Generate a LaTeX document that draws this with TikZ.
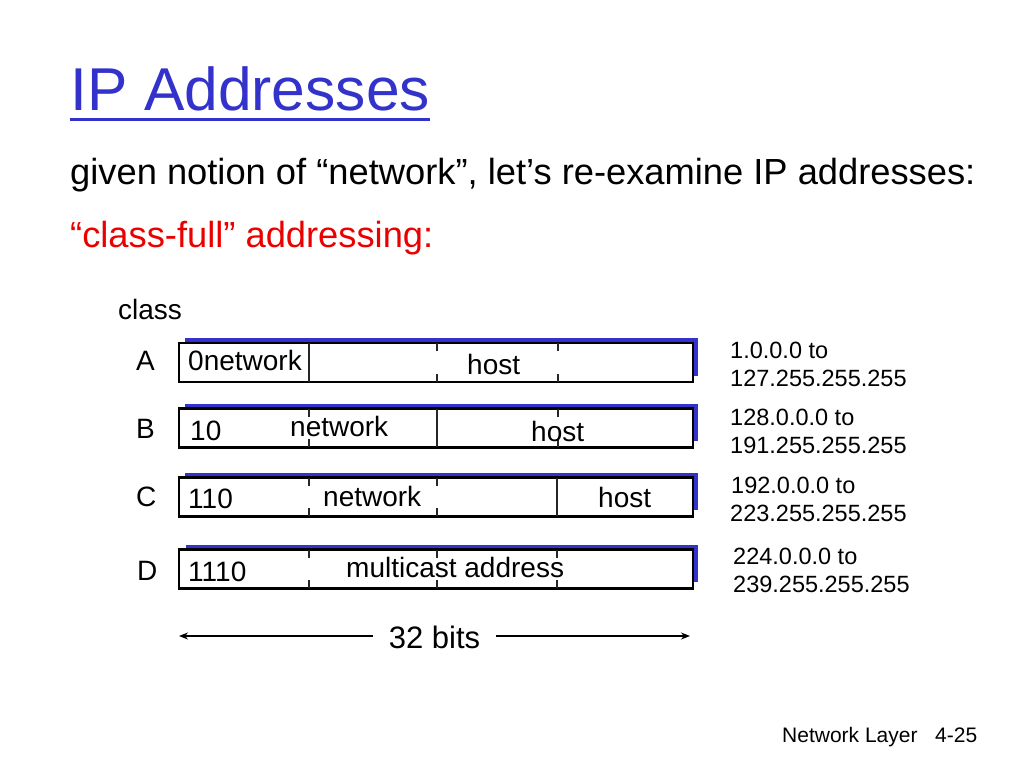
\documentclass[tikz,border=0pt]{standalone}
\usepackage{fontspec}
\setmainfont{Liberation Sans}
\usetikzlibrary{arrows.meta}
\definecolor{titleblue}{RGB}{51,51,204}
\definecolor{shadowblue}{RGB}{51,51,204}
\definecolor{slidered}{RGB}{235,0,0}
\newcommand{\myfs}[1]{\fontsize{#1}{#1}\selectfont}
\begin{document}
\begin{tikzpicture}[x=1pt,y=-1pt,
  txt/.style={anchor=base west, inner sep=0pt, font=\myfs{28}},
  rangetxt/.style={anchor=base west, inner sep=0pt, font=\myfs{23.5}},
  addrbox/.style={draw=black, line width=2.5pt, fill=white, minimum width=514pt, minimum height=39pt, inner sep=0pt, outer sep=0pt},
  shadowbox/.style={fill=shadowblue},
  divider/.style={line width=1.1pt, draw=black!85},
  arrowline/.style={line width=1.3pt, -{Stealth[length=9pt,width=7pt]}}]
\useasboundingbox (0,0) rectangle (1024,768);
\fill[white] (0,0) rectangle (1024,768);

% title
\node[anchor=base west, inner sep=0pt, font=\myfs{60.5}, text=titleblue] (title) at (70,110) {IP Addresses};
\draw[titleblue, line width=3pt] (title.south west |- 0,119) -- (title.south east |- 0,119);

\node[anchor=base west, inner sep=0pt, font=\myfs{36.3}] (intro) at (70,184) {given notion of “network”, let’s re-examine IP addresses:};
\node[anchor=base west, inner sep=0pt, font=\myfs{36.3}, text=slidered] (classful) at (70,247) {“class-full” addressing:};

\node[txt] (classlbl) at (118,319) {class};

% class letters
\node[txt] (lA) at (136,370) {A};
\node[txt] (lB) at (136,438) {B};
\node[txt] (lC) at (136,506) {C};
\node[txt] (lD) at (137,580) {D};

% shadows
\fill[shadowbox] (185,338) rectangle (698,376);
\fill[shadowbox] (185,404) rectangle (698,441);
\fill[shadowbox] (185,473) rectangle (698,510);
\fill[shadowbox] (186,545) rectangle (698,582);

% boxes
\node[addrbox] (boxA) at (436,362.5) {};
\node[addrbox] (boxB) at (436,428) {};
\node[addrbox] (boxC) at (436,497) {};
\node[addrbox] (boxD) at (436,569) {};

% dividers A
\draw[divider] (309,343) -- (309,382);
\draw[divider] (437,343) -- ++(0,8) (437,382) -- ++(0,-8);
\draw[divider] (558,343) -- ++(0,8) (558,382) -- ++(0,-8);
% dividers B
\draw[divider] (309,409) -- ++(0,8) (309,447) -- ++(0,-8);
\draw[divider] (437,409) -- (437,447);
\draw[divider] (558,409) -- ++(0,8) (558,447) -- ++(0,-8);
% dividers C
\draw[divider] (309,478) -- ++(0,8) (309,516) -- ++(0,-8);
\draw[divider] (437,478) -- ++(0,8) (437,516) -- ++(0,-8);
\draw[divider] (557,478) -- (557,516);
% dividers D
\draw[divider] (309,550) -- ++(0,8) (309,588) -- ++(0,-8);
\draw[divider] (437,550) -- ++(0,8) (437,588) -- ++(0,-8);
\draw[divider] (557,550) -- ++(0,8) (557,588) -- ++(0,-8);

% box texts
\node[txt] (tA1) at (188,370) {0network};
\node[txt] (tA2) at (467,374) {host};
\node[txt] (tB1) at (190,440) {10};
\node[txt] (tB2) at (290,436) {network};
\node[txt] (tB3) at (531,441) {host};
\node[txt] (tC1) at (188,508) {110};
\node[txt] (tC2) at (323,506) {network};
\node[txt] (tC3) at (598,507) {host};
\node[txt] (tD1) at (188,581) {1110};
\node[txt] (tD2) at (346,577) {multicast address};

% ranges
\node[rangetxt] (rA1) at (730,358) {1.0.0.0 to};
\node[rangetxt] (rA2) at (730,386) {127.255.255.255};
\node[rangetxt] (rB1) at (730,425) {128.0.0.0 to};
\node[rangetxt] (rB2) at (730,453) {191.255.255.255};
\node[rangetxt] (rC1) at (731,493) {192.0.0.0 to};
\node[rangetxt] (rC2) at (730,521) {223.255.255.255};
\node[rangetxt] (rD1) at (733,564) {224.0.0.0 to};
\node[rangetxt] (rD2) at (733,592) {239.255.255.255};

% 32 bits arrow
\coordinate (leftend) at (179,636);
\coordinate (rightend) at (690,636);
\node[anchor=base, font=\myfs{31}, inner xsep=16pt, inner ysep=0pt] (bits) at (434.5,648) {32 bits};
\draw[arrowline] (bits.west |- leftend) -- (leftend);
\draw[arrowline] (bits.east |- rightend) -- (rightend);

% footer
\node[anchor=base west, inner sep=0pt, font=\myfs{21}] (foot1) at (782,742) {Network Layer};
\node[anchor=base west, inner sep=0pt, font=\myfs{21}] (foot2) at (935,742) {4-25};
\end{tikzpicture}
\end{document}
